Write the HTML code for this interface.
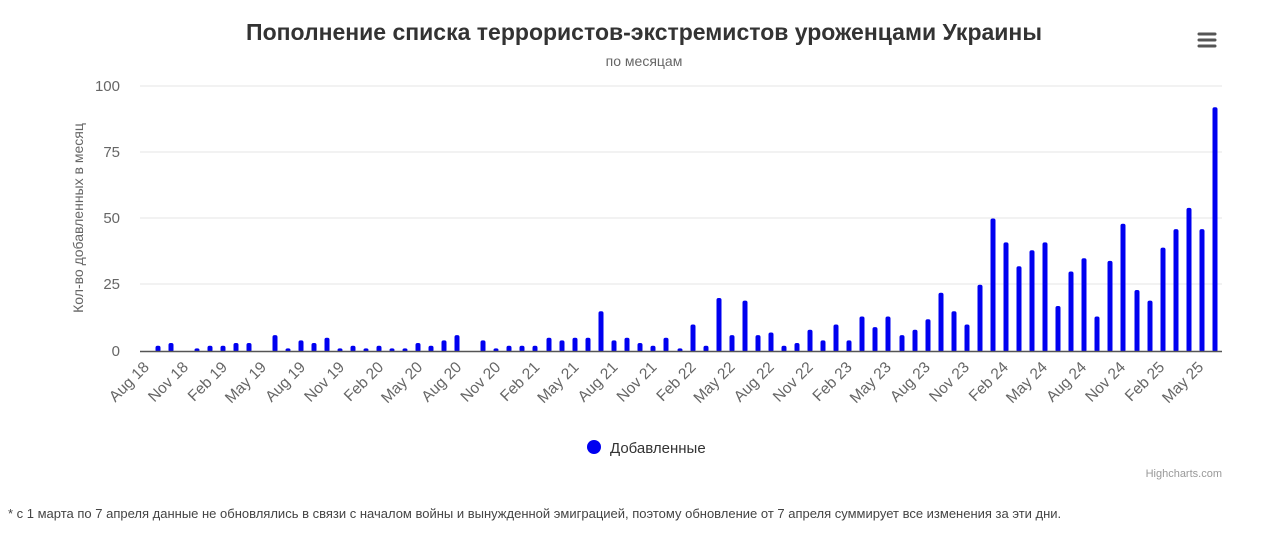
<!DOCTYPE html>
<html><head><meta charset="utf-8"><style>
body{margin:0;background:#fff;width:1280px;height:537px;overflow:hidden;font-family:"Liberation Sans",Arial,sans-serif}
</style></head><body>
<svg width="1280" height="537" xmlns="http://www.w3.org/2000/svg" font-family="Liberation Sans, Arial, sans-serif">
<text x="644" y="40" text-anchor="middle" font-size="23" font-weight="bold" fill="#333">Пополнение списка террористов-экстремистов уроженцами Украины</text>
<text x="644" y="66" text-anchor="middle" font-size="14" fill="#666">по месяцам</text>
<g stroke="#555" stroke-width="3" stroke-linecap="round"><line x1="1199" y1="34" x2="1215" y2="34"/><line x1="1199" y1="40" x2="1215" y2="40"/><line x1="1199" y1="46" x2="1215" y2="46"/></g>
<g stroke="#e6e6e6" stroke-width="1"><line x1="140" y1="86" x2="1222" y2="86"/><line x1="140" y1="152" x2="1222" y2="152"/><line x1="140" y1="218" x2="1222" y2="218"/><line x1="140" y1="284" x2="1222" y2="284"/></g>
<g font-size="15" fill="#666" text-anchor="end"><text x="120" y="91">100</text><text x="120" y="157">75</text><text x="120" y="223">50</text><text x="120" y="289">25</text><text x="120" y="356">0</text></g>
<text transform="translate(83,218) rotate(-90)" text-anchor="middle" font-size="14" fill="#666">Кол-во добавленных в месяц</text>
<g id="bars" fill="#0000f0"></g>
<line x1="140" y1="351.5" x2="1222" y2="351.5" stroke="#555" stroke-width="1.5"/>
<g id="xl" font-size="15.5" fill="#666" text-anchor="end"></g>
<circle cx="594" cy="447" r="7" fill="#0000f0"/>
<text x="610" y="453" font-size="15" fill="#333">Добавленные</text>
<text x="1222" y="477" text-anchor="end" font-size="11" fill="#999">Highcharts.com</text>
<text x="8" y="518" font-size="13" fill="#444">* с 1 марта по 7 апреля данные не обновлялись в связи с началом войны и вынужденной эмиграцией, поэтому обновление от 7 апреля суммирует все изменения за эти дни.</text>
</svg>
<script>
var d=[[158,2],[171,3],[197,1],[210,2],[223,2],[236,3],[249,3],[275,6],[288,1],[301,4],[314,3],[327,5],[340,1],[353,2],[366,1],[379,2],[392,1],[405,1],[418,3],[431,2],[444,4],[457,6],[483,4],[496,1],[509,2],[522,2],[535,2],[549,5],[562,4],[575,5],[588,5],[601,15],[614,4],[627,5],[640,3],[653,2],[666,5],[680,1],[693,10],[706,2],[719,20],[732,6],[745,19],[758,6],[771,7],[784,2],[797,3],[810,8],[823,4],[836,10],[849,4],[862,13],[875,9],[888,13],[902,6],[915,8],[928,12],[941,22],[954,15],[967,10],[980,25],[993,50],[1006,41],[1019,32],[1032,38],[1045,41],[1058,17],[1071,30],[1084,35],[1097,13],[1110,34],[1123,48],[1137,23],[1150,19],[1163,39],[1176,46],[1189,54],[1202,46],[1215,92]];
var g=document.getElementById('bars'),s='';
d.forEach(function(b){var h=b[1]*2.65;s+='<rect x="'+(b[0]-2.5)+'" y="'+(351-h)+'" width="5" height="'+(h+1)+'" rx="2"/>';});
g.innerHTML=s;
var L=["Aug 18","Nov 18","Feb 19","May 19","Aug 19","Nov 19","Feb 20","May 20","Aug 20","Nov 20","Feb 21","May 21","Aug 21","Nov 21","Feb 22","May 22","Aug 22","Nov 22","Feb 23","May 23","Aug 23","Nov 23","Feb 24","May 24","Aug 24","Nov 24","Feb 25","May 25"];
var t='';L.forEach(function(l,i){var x=150+i*39.05;t+='<text transform="translate('+x+',368) rotate(-45)">'+l+'</text>';});
document.getElementById('xl').innerHTML=t;
</script>
</body></html>
